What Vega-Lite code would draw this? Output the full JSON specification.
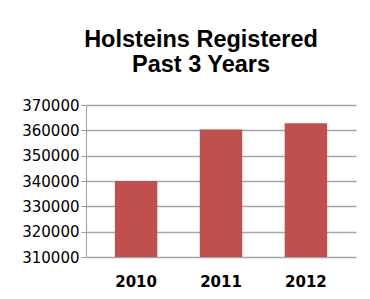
{
  "$schema": "https://vega.github.io/schema/vega-lite/v6.json",
  "width": 270,
  "height": 152,
  "autosize": {"type": "none"},
  "padding": {"left": 86, "top": 105, "right": 14, "bottom": 42},
  "background": "white",
  "title": {
    "text": ["Holsteins Registered", "Past 3 Years"],
    "font": "Liberation Sans",
    "fontSize": 23.5,
    "fontWeight": "bold",
    "color": "black",
    "lineHeight": 25,
    "anchor": "middle",
    "dx": -20,
    "offset": 22
  },
  "data": {
    "values": [
      {"year": "2010", "count": 340000},
      {"year": "2011", "count": 360300},
      {"year": "2012", "count": 362800}
    ]
  },
  "mark": {"type": "bar", "color": "#C0504D", "clip": true},
  "encoding": {
    "x": {
      "field": "year",
      "type": "nominal",
      "sort": null,
      "scale": {"paddingInner": 0.5, "paddingOuter": 0.34},
      "axis": {
        "title": null,
        "labelAngle": 0,
        "ticks": false,
        "domain": false,
        "labelFont": "DejaVu Sans",
        "labelFontWeight": "bold",
        "labelFontSize": 15,
        "labelColor": "black",
        "labelPadding": 17
      }
    },
    "y": {
      "field": "count",
      "type": "quantitative",
      "scale": {"domain": [310000, 370000], "zero": false, "nice": false},
      "axis": {
        "title": null,
        "values": [310000, 320000, 330000, 340000, 350000, 360000, 370000],
        "format": "d",
        "labelFont": "DejaVu Sans",
        "labelFontSize": 15,
        "labelColor": "black",
        "labelPadding": 2,
        "tickSize": 5,
        "tickColor": "#a0a0a0",
        "domainColor": "#a0a0a0",
        "gridColor": "#a6a6a6",
        "gridWidth": 1.3,
        "grid": true
      }
    }
  },
  "config": {"view": {"stroke": null}}
}
